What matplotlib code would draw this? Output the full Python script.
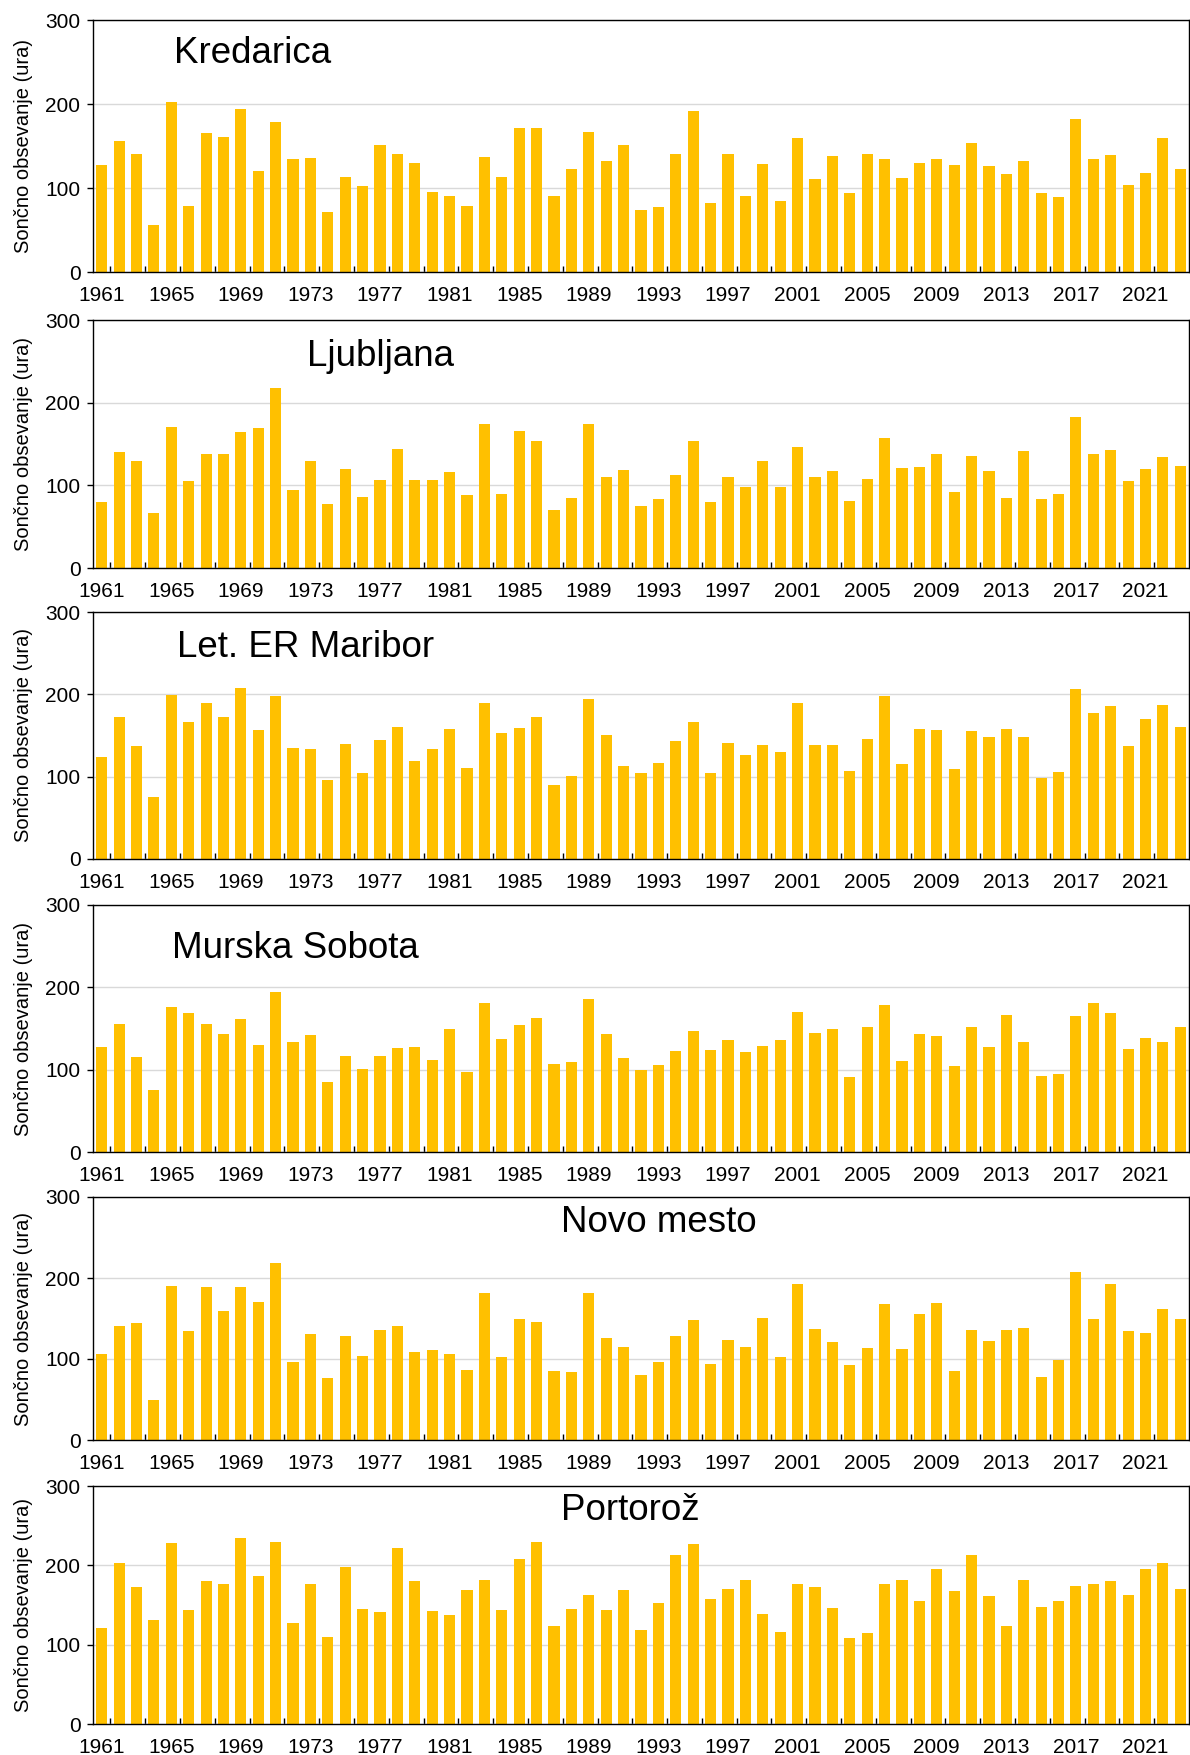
import matplotlib
matplotlib.use("Agg")
import matplotlib.pyplot as plt
from matplotlib.ticker import FixedLocator

plt.rcParams['font.family'] = ['Liberation Sans', 'DejaVu Sans']

YEARS = list(range(1961, 2024))

KREDARICA = [127, 156, 141, 56, 202, 78, 166, 161, 194, 120,
             179, 134, 136, 71, 113, 102, 151, 141, 130, 95,
             91, 79, 137, 113, 171, 171, 91, 123, 167, 132,
             151, 74, 77, 140, 192, 82, 140, 91, 128, 85,
             159, 111, 138, 94, 141, 135, 112, 130, 134, 127,
             153, 126, 117, 132, 94, 89, 182, 135, 139, 103,
             118, 160, 123]

LJUBLJANA = [80, 140, 130, 66, 170, 105, 138, 138, 165, 169,
             218, 94, 130, 77, 120, 86, 106, 144, 107, 106,
             116, 88, 174, 89, 166, 154, 70, 85, 174, 110,
             118, 75, 84, 112, 154, 80, 110, 98, 129, 98,
             146, 110, 117, 81, 108, 157, 121, 122, 138, 92,
             135, 117, 85, 142, 84, 89, 183, 138, 143, 105,
             120, 134, 123]

MARIBOR = [124, 173, 137, 75, 199, 167, 190, 172, 208, 157,
           198, 135, 133, 96, 140, 105, 145, 160, 119, 133,
           158, 110, 189, 153, 159, 172, 90, 101, 194, 150,
           113, 105, 116, 143, 166, 104, 141, 126, 138, 130,
           190, 139, 139, 107, 146, 198, 115, 158, 157, 109,
           155, 148, 158, 148, 98, 106, 206, 177, 186, 137,
           170, 187, 160]

MURSKA_SOBOTA = [127, 156, 115, 75, 176, 169, 156, 143, 162, 130,
                 194, 133, 142, 85, 117, 101, 116, 126, 128, 112,
                 150, 97, 181, 137, 154, 163, 107, 109, 186, 143,
                 114, 100, 106, 123, 147, 124, 136, 121, 129, 136,
                 170, 145, 150, 91, 152, 179, 111, 143, 141, 105,
                 152, 127, 167, 133, 92, 95, 165, 181, 169, 125,
                 138, 133, 152]

NOVO_MESTO = [106, 141, 144, 49, 190, 135, 189, 159, 189, 170,
              218, 96, 131, 76, 129, 104, 136, 141, 109, 111,
              106, 86, 182, 103, 150, 146, 85, 84, 181, 126,
              115, 80, 96, 129, 148, 94, 124, 115, 151, 103,
              192, 137, 121, 92, 113, 168, 112, 155, 169, 85,
              136, 122, 136, 138, 78, 99, 207, 150, 192, 134,
              132, 162, 149]

PORTOROZ = [121, 203, 173, 131, 228, 144, 180, 176, 235, 187,
            230, 127, 177, 110, 198, 145, 141, 222, 180, 143,
            138, 169, 182, 144, 208, 229, 124, 145, 162, 144,
            169, 118, 152, 213, 227, 157, 170, 181, 139, 116,
            177, 173, 146, 109, 115, 177, 182, 155, 195, 168,
            213, 161, 123, 182, 148, 155, 174, 177, 180, 162,
            196, 203, 170]

STATIONS = ["Kredarica", "Ljubljana", "Let. ER Maribor",
            "Murska Sobota", "Novo mesto", "Portorož"]
SERIES = [KREDARICA, LJUBLJANA, MARIBOR, MURSKA_SOBOTA, NOVO_MESTO, PORTOROZ]

# station name placement (axes fraction, left edge)
NAME_POS = [(0.074, 0.868), (0.195, 0.852), (0.077, 0.855),
            (0.072, 0.823), (0.427, 0.895), (0.427, 0.897)]

W, H = 1190, 1755
# panel (top, bottom) in pixels
PANELS = [(20, 272), (320, 568), (612, 859), (905, 1152), (1197, 1440), (1486, 1724)]
LEFT, RIGHT = 93, 1189

BAR_COLOR = "#FFC000"
GRID_COLOR = "#d9d9d9"


def draw_panel(ax, values, name, name_pos):
    x = list(range(len(YEARS)))
    ax.bar(x, values, width=0.64, color=BAR_COLOR, zorder=2)
    ax.set_xlim(-0.5, len(YEARS) - 0.5)
    ax.set_ylim(0, 300)
    ax.set_yticks([0, 100, 200, 300])
    ax.grid(axis='y', color=GRID_COLOR, linewidth=1.0, zorder=0)
    ax.set_axisbelow(True)

    label_idx = [i for i, y in enumerate(YEARS) if (y - 1961) % 4 == 0]
    ax.set_xticks(label_idx)
    ax.set_xticklabels([str(YEARS[i]) for i in label_idx])
    ax.xaxis.set_minor_locator(FixedLocator([i + 0.5 for i in range(0, len(YEARS) - 1, 2)]))
    ax.tick_params(axis='x', which='major', length=0, pad=10, labelsize=15)
    ax.tick_params(axis='x', which='minor', direction='in', length=4, width=1)
    ax.tick_params(axis='y', which='major', direction='out', length=4, width=1,
                   labelsize=15, pad=5)

    for sp in ax.spines.values():
        sp.set_linewidth(1.0)
        sp.set_color("black")

    ax.set_ylabel("Sončno obsevanje (ura)", fontsize=14.5)
    ax.yaxis.set_label_coords(-0.055, 0.5)
    ax.text(name_pos[0], name_pos[1], name, transform=ax.transAxes,
            ha='left', va='center', fontsize=26.5)


def main():
    fig = plt.figure(figsize=(W / 100, H / 100), dpi=100)
    for (top, bottom), values, name, pos in zip(PANELS, SERIES, STATIONS, NAME_POS):
        rect = [LEFT / W, 1 - bottom / H, (RIGHT - LEFT) / W, (bottom - top) / H]
        ax = fig.add_axes(rect)
        draw_panel(ax, values, name, pos)
    fig.savefig("out.png", dpi=100, facecolor="white")


if __name__ == "__main__":
    main()
